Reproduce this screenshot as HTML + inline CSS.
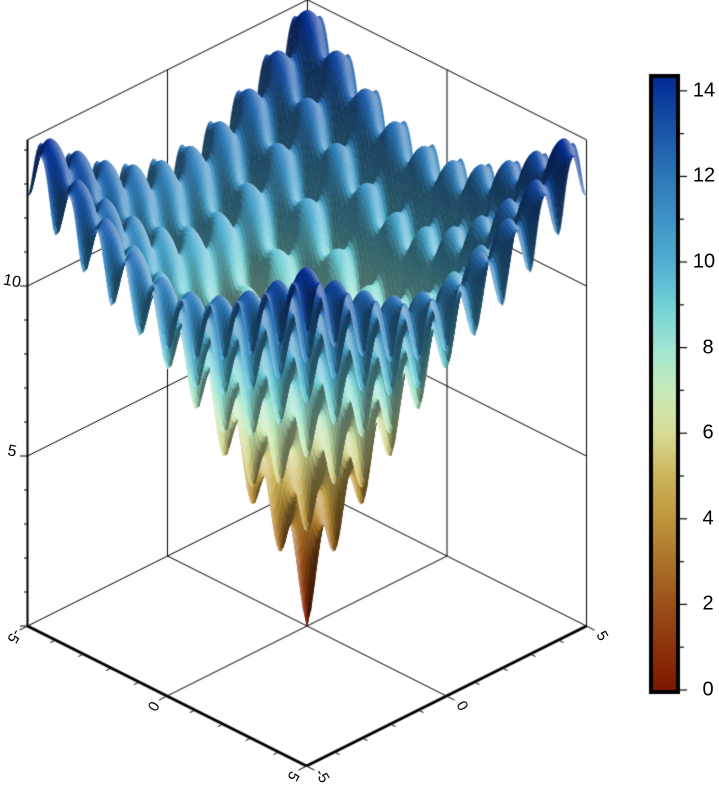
<!DOCTYPE html>
<html><head><meta charset="utf-8"><style>
html,body{margin:0;padding:0;background:#fff;width:719px;height:783px;overflow:hidden}
canvas{position:absolute;left:0;top:0}
.lbl{position:absolute;font-family:"Liberation Sans",sans-serif;color:#000}
</style></head><body>
<canvas id="c" width="719" height="783"></canvas>
<div id="labels"></div>
<script>
// Colorbar data
const cbarTicks = [0, 2, 4, 6, 8, 10, 12, 14];
const cbarMinorTicks = [1, 3, 5, 7, 9, 11, 13];
const cmapValues = [0, 2, 4, 5, 6, 7, 8, 9, 10, 12, 14.3];
const cmapColors = [[126,23,0],[155,80,25],[190,150,60],[205,180,90],[215,220,150],[200,235,185],[160,230,210],[115,210,215],[80,175,210],[45,120,185],[5,45,150]];
const xTicks = [-5, 0, 5];
const yTicks = [-5, 0, 5];
const zTicks = [5, 10];
const zMax = 14.3;

function px(x,y){return 307+27.9*x+28*y;}
function py(x,y,z){return 626+14*x-14*y-34*z;}
function cmap(v){
  if(v<=cmapValues[0])return cmapColors[0];
  for(let i=1;i<cmapValues.length;i++){
    if(v<=cmapValues[i]){const t=(v-cmapValues[i-1])/(cmapValues[i]-cmapValues[i-1]);
      const a=cmapColors[i-1],b=cmapColors[i];return [a[0]+(b[0]-a[0])*t,a[1]+(b[1]-a[1])*t,a[2]+(b[2]-a[2])*t];}
  }
  return cmapColors[cmapColors.length-1];
}
function surf(x,y){ // Ackley function
  return -20*Math.exp(-0.2*Math.sqrt(0.5*(x*x+y*y)))-Math.exp(0.5*(Math.cos(2*Math.PI*x)+Math.cos(2*Math.PI*y)))+Math.E+20;
}
const cv=document.getElementById('c');const g=cv.getContext('2d');
function line(x1,y1,x2,y2,w){g.lineWidth=w;g.strokeStyle='#000';g.beginPath();g.moveTo(x1,y1);g.lineTo(x2,y2);g.stroke();}
function wl(a,b,w){line(px(a[0],a[1]),py(a[0],a[1],a[2]),px(b[0],b[1]),py(b[0],b[1],b[2]),w);}
// back walls
wl([-5,-5,0],[-5,-5,zMax],1);wl([-5,5,0],[-5,5,zMax],1);wl([5,5,0],[5,5,zMax],1);
wl([-5,-5,zMax],[-5,5,zMax],1);wl([-5,5,zMax],[5,5,zMax],1);
wl([-5,-5,0],[-5,5,0],1);wl([-5,5,0],[5,5,0],1);
wl([-5,0,0],[-5,0,zMax],1);wl([0,5,0],[0,5,zMax],1);
zTicks.forEach(z=>{wl([-5,-5,z],[-5,5,z],1);wl([-5,5,z],[5,5,z],1);});
wl([0,-5,0],[0,5,0],1);wl([-5,0,0],[5,0,0],1);
// surface
const N=150,h=10/N;const Z=[];
for(let i=0;i<=N;i++){Z.push([]);for(let j=0;j<=N;j++)Z[i].push(surf(-5+i*h,-5+j*h));}
const quads=[];
for(let i=0;i<N;i++)for(let j=0;j<N;j++)quads.push([i,j]);
quads.sort((a,b)=>(a[0]-a[1])-(b[0]-b[1]));
const L=[0.35,0.55,0.76];const ln=Math.hypot(...L);
for(const [i,j] of quads){
  const x0=-5+i*h,y0=-5+j*h,x1=x0+h,y1=y0+h;
  const z00=Z[i][j],z10=Z[i+1][j],z11=Z[i+1][j+1],z01=Z[i][j+1];
  const zc=(z00+z10+z11+z01)/4;
  const dzx=((z10+z11)-(z00+z01))/(2*h),dzy=((z01+z11)-(z00+z10))/(2*h);
  const nx=-dzx*0.3,ny=-dzy*0.3,nz=1,nn=Math.hypot(nx,ny,nz);
  let s=(nx*L[0]+ny*L[1]+nz*L[2])/(nn*ln);
  let c=cmap(zc);let f=(s-0.62)*1.2;
  c=c.map(v=>f>0?v+(255-v)*Math.min(f,0.7):v*(1+Math.max(f,-0.5)));
  const col='rgb('+(c[0]|0)+','+(c[1]|0)+','+(c[2]|0)+')';
  g.fillStyle=col;g.strokeStyle=col;g.lineWidth=0.6;
  g.beginPath();g.moveTo(px(x0,y0),py(x0,y0,z00));g.lineTo(px(x1,y0),py(x1,y0,z10));
  g.lineTo(px(x1,y1),py(x1,y1,z11));g.lineTo(px(x0,y1),py(x0,y1,z01));g.closePath();g.fill();g.stroke();
}
// front axes
wl([-5,-5,0],[5,-5,0],3);wl([5,-5,0],[5,5,0],3);wl([-5,-5,0],[-5,-5,zMax],2);
for(let v=-5;v<=5;v++){
  const a=px(v,-5),b=py(v,-5,0);line(a,b,a-5*(v%5==0?1.6:1),b+2.6*(v%5==0?1.6:1),1);
  const c2=px(5,v),d=py(5,v,0);line(c2,d,c2+5*(v%5==0?1.6:1),d+2.6*(v%5==0?1.6:1),1);
}
for(let z=0;z<=14;z++){const y=py(-5,-5,z);line(28,y,z%5==0?20:24,y,1);}
// colorbar
const cbX=652,cbW=25,cbTop=78,cbBot=690,cbMax=14.3;
function cy(v){return cbBot-(v/cbMax)*(cbBot-cbTop);}
for(let y=cbTop;y<=cbBot;y++){const c=cmap((cbBot-y)/(cbBot-cbTop)*cbMax);g.fillStyle='rgb('+(c[0]|0)+','+(c[1]|0)+','+(c[2]|0)+')';g.fillRect(cbX,y,cbW,1.2);}
g.lineWidth=4;g.strokeStyle='#000';g.strokeRect(cbX-1,cbTop-2,cbW+2,cbBot-cbTop+4);
const lab=document.getElementById('labels');
function addLabel(t,x,y,size,rot,name){const d=document.createElement('div');d.className='lbl';d.textContent=t;
  
  
  d.style.fontSize=size+'px';d.style.left=x+'px';d.style.top=y+'px';d.style.transform='translate(-50%,-50%) rotate('+rot+'deg)';lab.appendChild(d);}
cbarTicks.forEach(v=>{line(679,cy(v),687,cy(v),1.2);addLabel(String(v),v>=10?704:708,cy(v),20,0,'colorbar-tick-label');});
cbarMinorTicks.forEach(v=>line(679,cy(v),684,cy(v),1.2));
xTicks.forEach(v=>addLabel(String(v),px(v,-5)-14,py(v,-5,0)+10,15,120,'x-tick-label'));
yTicks.forEach(v=>addLabel(String(v),px(5,v)+15,py(5,v,0)+10,15,60,'y-tick-label'));
zTicks.forEach(v=>addLabel(String(v),12,py(-5,-5,v)-4,16,10,'z-tick-label'));
</script>
</body></html>
